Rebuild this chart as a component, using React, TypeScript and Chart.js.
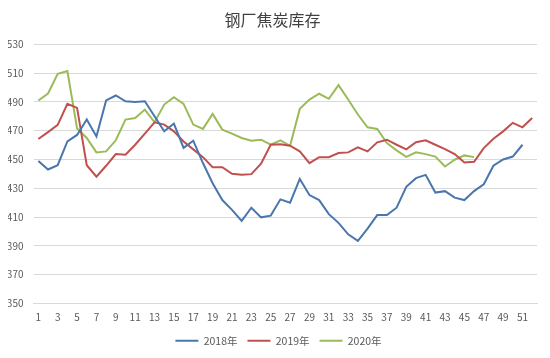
import React, { useEffect, useRef } from "react";
import { Chart, registerables } from "chart.js";

Chart.register(...registerables);

const weeks = [
  "1", "2", "3", "4", "5", "6", "7", "8", "9", "10", "11", "12", "13",
  "14", "15", "16", "17", "18", "19", "20", "21", "22", "23", "24", "25", "26",
  "27", "28", "29", "30", "31", "32", "33", "34", "35", "36", "37", "38", "39",
  "40", "41", "42", "43", "44", "45", "46", "47", "48", "49", "50", "51", "52",
];

const series2018 = [
  449, 443, 446, 462.5, 467, 477.7, 466, 491, 494.4, 490.4, 489.8, 490.4, 480,
  469.5, 474.9, 458, 463, 447.5, 433.5, 421.8, 415, 407.4, 416.5, 409.8, 411, 422.3,
  420, 436.5, 425.3, 421.8, 412, 406, 398, 393.5, 402, 411.4, 411.4, 416.5, 431,
  437, 439.3, 427, 428, 423.5, 421.8, 428, 432.8, 445.6, 450, 452, 460.2,
];

const series2019 = [
  464.2, 469, 474, 488.6, 485.8, 446, 438, 445.6, 453.7, 453.3, 460.2, 467.9, 475.8,
  474.2, 469.5, 462.5, 457, 451.6, 444.6, 444.6, 440, 439.3, 439.8, 447, 460.2, 460.6,
  459.5, 455.6, 447.4, 451.6, 451.6, 454.4, 454.9, 458.4, 455.6, 461.9, 463.7, 460.2, 457,
  461.9, 463.3, 460.2, 457.2, 453.7, 447.9, 448.4, 457.9, 464.4, 469.5, 475.4, 472.3, 478.8,
];

const series2020 = [
  490.9, 495.8, 509.5, 511.4, 471.5, 464.9, 454.9, 455.6, 463.3, 477.7, 478.8, 484.6, 475.8,
  488.1, 493.2, 488.6, 474.2, 471.2, 481.6, 470.7, 467.9, 464.9, 463, 463.7, 460.2, 463.2,
  459.5, 485.1, 491.6, 495.6, 492.1, 501.6, 491.6, 481.2, 472.3, 471.2, 461.4, 456.3, 451.8,
  454.9, 453.7, 452, 445.1, 449.8, 452.8, 451.6,
];

const seriesNames = ["2018年", "2019年", "2020年"];
const seriesColors = ["#4A76AE", "#C0504D", "#9BBB59"];

const FONT = "'Noto Sans CJK SC', 'Noto Sans', sans-serif";

const legendShift = {
  id: "legendShift",
  afterLayout(chart: any) {
    if (chart.legend) {
      chart.legend.left += 6;
      chart.legend.right += 6;
    }
  },
};

export default function App() {
  const canvasRef = useRef<HTMLCanvasElement | null>(null);

  useEffect(() => {
    const canvas = canvasRef.current;
    if (!canvas) return;
    const chart = new Chart(canvas, {
      type: "line",
      data: {
        labels: weeks,
        datasets: [series2018, series2019, series2020].map((d, i) => ({
          label: seriesNames[i],
          data: d,
          borderColor: seriesColors[i],
          backgroundColor: seriesColors[i],
          borderWidth: 2,
          pointRadius: 0,
          pointHoverRadius: 0,
          tension: 0,
          fill: false,
        })),
      },
      plugins: [legendShift],
      options: {
        responsive: false,
        animation: false,
        layout: { padding: { left: 8, right: 13, top: 0, bottom: 2 } },
        plugins: {
          title: {
            display: true,
            text: "钢厂焦炭库存",
            color: "#404040",
            font: { family: FONT, size: 16, weight: "normal" },
            padding: { top: 10, bottom: 15 },
          },
          legend: {
            position: "bottom",
            labels: {
              usePointStyle: true,
              pointStyle: "line",
              pointStyleWidth: 23,
              color: "#595959",
              font: { family: FONT, size: 10.5 },
              padding: 10,
            },
          },
          tooltip: { enabled: false },
        },
        scales: {
          x: {
            offset: true,
            afterFit: (scale: any) => {
              scale.height = scale.height - 6;
            },
            grid: { display: false, drawTicks: false },
            border: { display: true, color: "#d9d9d9", width: 1 },
            ticks: {
              autoSkip: false,
              maxRotation: 0,
              minRotation: 0,
              padding: 8,
              color: "#595959",
              font: { family: FONT, size: 10 },
              callback: (_v: any, i: number) => (i % 2 === 0 ? weeks[i] : ""),
            },
          },
          y: {
            min: 350,
            max: 530,
            afterFit: (scale: any) => {
              scale.width = 25.5;
            },
            ticks: {
              stepSize: 20,
              padding: 10,
              color: "#595959",
              font: { family: FONT, size: 10 },
            },
            grid: { color: "#d9d9d9", drawTicks: false, lineWidth: 1 },
            border: { display: false },
          },
        },
      },
    });
    return () => chart.destroy();
  }, []);

  return (
    <div style={{ position: "absolute", left: 0, top: 0, width: 550, height: 358, background: "#fff" }}>
      <canvas ref={canvasRef} width={550} height={358} style={{ width: 550, height: 358 }} />
    </div>
  );
}
